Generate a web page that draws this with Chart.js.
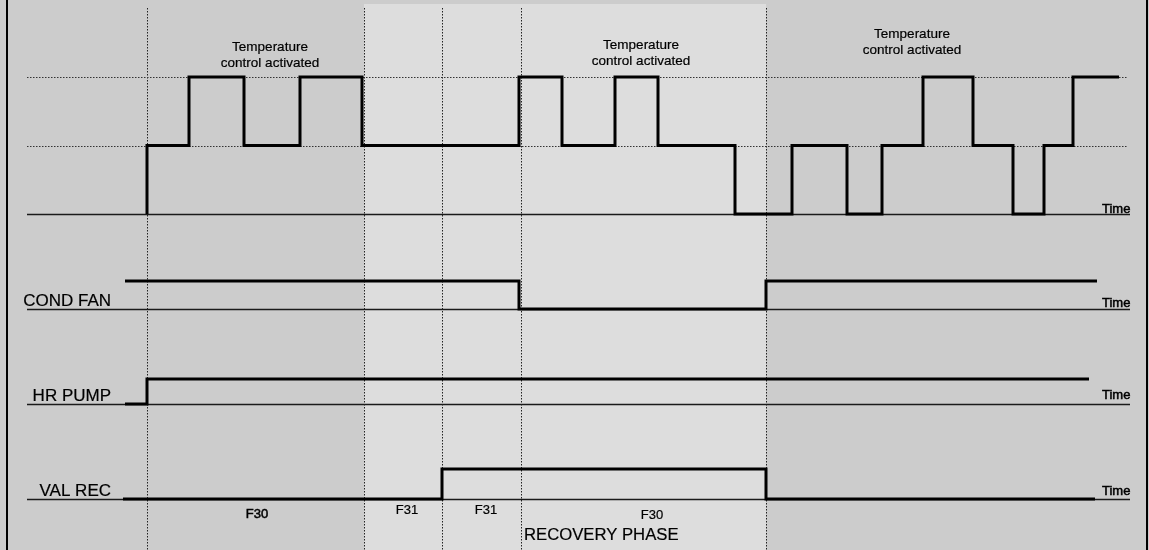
<!DOCTYPE html>
<html>
<head>
<meta charset="utf-8">
<title>Recovery phase timing</title>
<script src="https://cdn.jsdelivr.net/npm/chart.js@4.4.1/dist/chart.umd.min.js"></script>
<style>
    html, body { margin: 0; padding: 0; background: #cccccc; }
    #wrap { position: relative; width: 1149px; height: 550px; }
</style>
</head>
<body>
<div id="wrap"><canvas id="timingChart"></canvas></div>
<script>
// signal data (x = time units, y = signal level)
const tempTimes  = [147, 147, 189, 244, 300, 362, 519, 562, 615, 658, 735, 792, 847, 882, 923, 973, 1013, 1044, 1073, 1119];
const tempLevels = [0,   1,   2,   1,   2,   1,   2,   1,   2,   1,   0,   1,   0,   1,   2,   1,   0,    1,    2,    2];
const fanTimes   = [125, 519, 766, 1097];
const fanLevels  = [1, 0, 1, 1];
const pumpTimes  = [125, 147, 1089];
const pumpLevels = [0, 1, 1];
const valveTimes  = [123, 442, 766, 1095];
const valveLevels = [0, 1, 0, 0];

const signalNames = ['', 'COND FAN', 'HR PUMP', 'VAL REC'];
const phaseBounds = [147, 364, 442, 521, 766];
const phaseLabels = ['F30', 'F31', 'F31', 'F30'];
const phaseLabelTimes = [257, 407, 486, 652];
const recoveryLabel = 'RECOVERY PHASE';
const tempNote = ['Temperature', 'control activated'];
const tempNoteTimes = [270, 641, 912];
const timeLabel = 'Time';
const timeStart = 27, timeEnd = 1130;
const lightBand = [364, 766];

// layout
const W = 1149, H = 550;
const tracks = [
    { axis: 'yTemp',  base: 214, step: 68.5, timeGap: 1 },
    { axis: 'yFan',   base: 309, step: 28,   timeGap: 2 },
    { axis: 'yPump',  base: 404, step: 25,   timeGap: 5 },
    { axis: 'yValve', base: 499, step: 30,   timeGap: 4 }
];
const FONT = '"Liberation Sans", Arial, sans-serif';

function trackScale(t) {
    const max = t.base / t.step;
    return { type: 'linear', display: false, min: max - H / t.step, max: max };
}

function stepData(times, levels) {
    return times.map((t, i) => ({ x: t, y: levels[i] }));
}

function signal(times, levels, axis) {
    return {
        data: stepData(times, levels),
        yAxisID: axis,
        showLine: true,
        stepped: 'before',
        borderColor: '#000',
        borderWidth: 3,
        borderJoinStyle: 'miter',
        borderCapStyle: 'butt',
        pointRadius: 0,
        fill: false
    };
}

// text with a hairline stroke, the scanned labels look a bit heavier
function heavyText(ctx, text, px, py, weight) {
    ctx.fillText(text, px, py);
    if (weight) {
        ctx.lineWidth = weight;
        ctx.strokeStyle = ctx.fillStyle;
        ctx.strokeText(text, px, py);
    }
}

const diagramPlugin = {
    id: 'diagram',
    beforeDatasetsDraw(chart) {
        const ctx = chart.ctx;
        const x = chart.scales.x;
        ctx.save();
        // backgrounds
        ctx.fillStyle = '#cccccc';
        ctx.fillRect(0, 0, W, H);
        ctx.fillStyle = '#dddddd';
        ctx.fillRect(x.getPixelForValue(lightBand[0]), 4,
            x.getPixelForValue(lightBand[1]) - x.getPixelForValue(lightBand[0]), H - 4);

        // phase boundaries
        ctx.strokeStyle = '#222';
        ctx.lineWidth = 1;
        ctx.setLineDash([1.5, 1.5]);
        phaseBounds.forEach(t => {
            const px = Math.round(x.getPixelForValue(t)) + 0.5;
            ctx.beginPath();
            ctx.moveTo(px, 8);
            ctx.lineTo(px, H);
            ctx.stroke();
        });

        // temperature thresholds
        const yT = chart.scales.yTemp;
        ctx.strokeStyle = '#333';
        [1, 2].forEach(lv => {
            const py = Math.round(yT.getPixelForValue(lv)) + 0.5;
            ctx.beginPath();
            ctx.moveTo(x.getPixelForValue(timeStart), py);
            ctx.lineTo(x.getPixelForValue(timeEnd - 2), py);
            ctx.stroke();
        });
        ctx.setLineDash([]);

        // time baselines
        ctx.strokeStyle = '#1a1a1a';
        ctx.lineWidth = 1.3;
        tracks.forEach(t => {
            const py = Math.round(chart.scales[t.axis].getPixelForValue(0)) + 0.5;
            ctx.beginPath();
            ctx.moveTo(x.getPixelForValue(timeStart), py);
            ctx.lineTo(x.getPixelForValue(timeEnd), py);
            ctx.stroke();
        });
        ctx.restore();
    },
    afterDatasetsDraw(chart) {
        const ctx = chart.ctx;
        const x = chart.scales.x;
        ctx.save();
        ctx.fillStyle = '#000';

        // Time labels and signal names
        tracks.forEach((t, i) => {
            const py = chart.scales[t.axis].getPixelForValue(0);
            ctx.font = '13px ' + FONT;
            ctx.textAlign = 'left';
            ctx.textBaseline = 'alphabetic';
            heavyText(ctx, timeLabel, x.getPixelForValue(1102), py - t.timeGap, 0.5);
            if (signalNames[i]) {
                ctx.font = '17px ' + FONT;
                ctx.textAlign = 'right';
                heavyText(ctx, signalNames[i], x.getPixelForValue(111), py - 3, 0.2);
            }
        });

        // temperature notes
        const noteTops = [47, 45, 34];
        ctx.font = '13.5px ' + FONT;
        ctx.textAlign = 'center';
        ctx.textBaseline = 'middle';
        tempNoteTimes.forEach((t, i) => {
            heavyText(ctx, tempNote[0], x.getPixelForValue(t), noteTops[i], 0.2);
            heavyText(ctx, tempNote[1], x.getPixelForValue(t), noteTops[i] + 16, 0.2);
        });

        // phase labels
        const phaseY = [514, 510, 510, 515];
        const phaseWeight = [0.5, 0.2, 0.2, 0.2];
        ctx.font = '13px ' + FONT;
        phaseLabels.forEach((lb, i) => {
            heavyText(ctx, lb, x.getPixelForValue(phaseLabelTimes[i]), phaseY[i], phaseWeight[i]);
        });
        ctx.font = '16.7px ' + FONT;
        ctx.textAlign = 'left';
        heavyText(ctx, recoveryLabel, x.getPixelForValue(phaseBounds[3]) + 3, 535, 0.2);

        // frame
        ctx.fillRect(6, 0, 2, H);
        ctx.fillRect(1146, 0, 2, H);
        ctx.restore();
    }
};

const scales = { x: { type: 'linear', display: false, min: 0, max: W } };
tracks.forEach(t => { scales[t.axis] = trackScale(t); });

new Chart(document.getElementById('timingChart'), {
    type: 'scatter',
    data: {
        datasets: [
            signal(tempTimes, tempLevels, 'yTemp'),
            signal(fanTimes, fanLevels, 'yFan'),
            signal(pumpTimes, pumpLevels, 'yPump'),
            signal(valveTimes, valveLevels, 'yValve')
        ]
    },
    options: {
        responsive: true,
        maintainAspectRatio: false,
        animation: false,
        layout: { padding: 0 },
        plugins: {
            legend: { display: false },
            tooltip: { enabled: false }
        },
        scales: scales
    },
    plugins: [diagramPlugin]
});
</script>
</body>
</html>
